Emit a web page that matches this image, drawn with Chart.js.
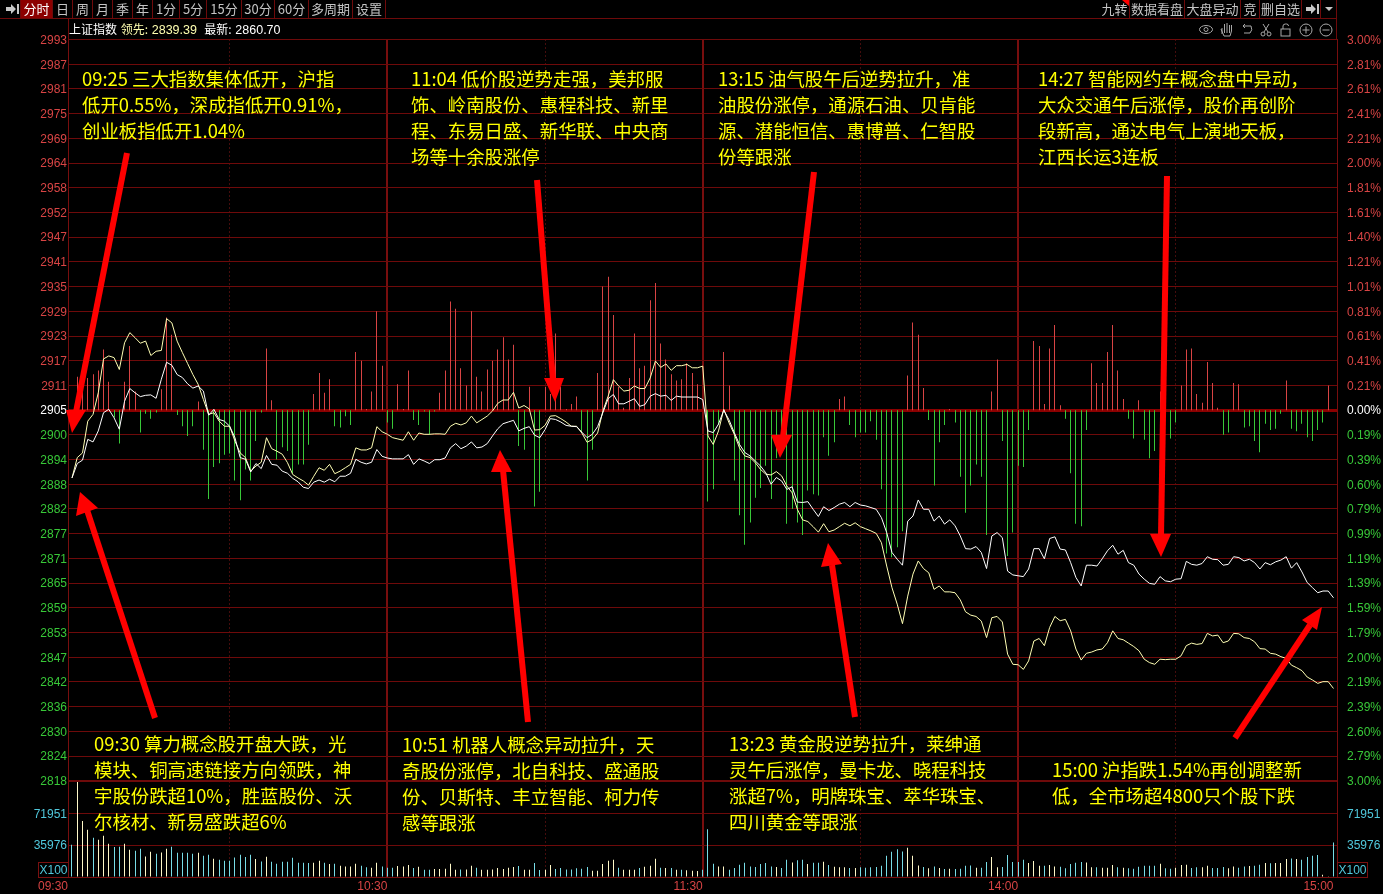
<!DOCTYPE html>
<html>
<head>
<meta charset="utf-8">
<title>上证指数 分时</title>
<script src="https://cdn.jsdelivr.net/npm/chart.js@4"></script>
<style>
html, body { margin: 0; padding: 0; background: #000; width: 1383px; height: 894px; overflow: hidden; }
canvas { position: absolute; left: 0; }
#main { top: 0; }
#vol { top: 770px; }
.abs { position: absolute; white-space: pre; }
#top { font: 13px "Noto Sans CJK SC", sans-serif; color: #c4c4c4; }
#top span { position: absolute; top: 0; height: 18px; line-height: 18px; text-align: center; border-right: 1px solid #6e0a0a; box-sizing: border-box; }
#info { left: 69px; top: 20px; font: 12px/18px "Noto Sans CJK SC", sans-serif; color: #fff; word-spacing: 1px; }
#info b { font: 12.500px/18px "Liberation Sans", sans-serif; }
.note { color: #ffff00; font: 18.400px/26px "Noto Sans CJK SC", sans-serif; }
#x100 { left: 38px; top: 862px; width: 29px; height: 14px; border: 1px solid #7a1010; color: #50c8dc; font: 12px/14px "Liberation Sans", sans-serif; text-align: center; }
#x100r { left: 1337px; top: 862px; width: 29px; height: 14px; border: 1px solid #7a1010; color: #50c8dc; font: 12px/14px "Liberation Sans", sans-serif; text-align: center; }
</style>
</head>
<body>
<canvas id="main" width="1383" height="790"></canvas>
<canvas id="vol" width="1383" height="124"></canvas>

<div id="top" class="abs" style="left:0;top:0;width:1383px;height:18px"></div>
<div class="abs" style="left:0;top:18px;width:1337px;height:1px;background:#6e0a0a"></div>
<div class="abs" style="left:68px;top:18px;width:1px;height:22px;background:#6e0a0a"></div>
<div class="abs" style="left:1336px;top:0;width:1px;height:40px;background:#6e0a0a"></div>
<div id="info" class="abs">上证指数 <span style="color:#ffffb0">领先: </span><b style="color:#ffffb0">2839.39</b>  最新: <b>2860.70</b></div>
<div id="x100" class="abs">X100</div>
<div id="x100r" class="abs">X100</div>

<div class="note abs" style="left:82px;top:65px">09:25 三大指数集体低开，沪指
低开0.55%，深成指低开0.91%，
创业板指低开1.04%</div>
<div class="note abs" style="left:411px;top:65px">11:04 低价股逆势走强，美邦服
饰、岭南股份、惠程科技、新里
程、东易日盛、新华联、中央商
场等十余股涨停</div>
<div class="note abs" style="left:718px;top:65px">13:15 油气股午后逆势拉升，准
油股份涨停，通源石油、贝肯能
源、潜能恒信、惠博普、仁智股
份等跟涨</div>
<div class="note abs" style="left:1038px;top:65px">14:27 智能网约车概念盘中异动，
大众交通午后涨停，股价再创阶
段新高，通达电气上演地天板，
江西长运3连板</div>
<div class="note abs" style="left:94px;top:730px">09:30 算力概念股开盘大跌，光
模块、铜高速链接方向领跌，神
宇股份跌超10%，胜蓝股份、沃
尔核材、新易盛跌超6%</div>
<div class="note abs" style="left:402px;top:731px">10:51 机器人概念异动拉升，天
奇股份涨停，北自科技、盛通股
份、贝斯特、丰立智能、柯力传
感等跟涨</div>
<div class="note abs" style="left:729px;top:730px">13:23 黄金股逆势拉升，莱绅通
灵午后涨停，曼卡龙、晓程科技
涨超7%，明牌珠宝、萃华珠宝、
四川黄金等跟涨</div>
<div class="note abs" style="left:1052px;top:756px">15:00 沪指跌1.54%再创调整新
低，全市场超4800只个股下跌</div>

<!-- red arrows + toolbar icons, drawn over everything -->
<svg class="abs" style="left:0;top:0" width="1383" height="894">
  <g stroke="#ff0000" stroke-width="6" fill="#ff0000">
    <line x1="127" y1="153" x2="76" y2="412"/><polygon stroke="none" points="72,433 66,410 86,410"/>
    <line x1="155" y1="718" x2="87" y2="510"/><polygon stroke="none" points="80,492 76,516 98,508"/>
    <line x1="528" y1="722" x2="503" y2="470"/><polygon stroke="none" points="500,450 491,472 512,472"/>
    <line x1="537" y1="180" x2="553" y2="380"/><polygon stroke="none" points="555,402 544,378 564,378"/>
    <line x1="814" y1="172" x2="783" y2="437"/><polygon stroke="none" points="780,458 771,435 792,435"/>
    <line x1="855" y1="717" x2="832" y2="565"/><polygon stroke="none" points="828,543 821,567 842,564"/>
    <line x1="1167" y1="176" x2="1161" y2="536"/><polygon stroke="none" points="1161,557 1150,534 1171,534"/>
    <line x1="1235" y1="738" x2="1310" y2="625"/><polygon stroke="none" points="1322,607 1302,620 1317,630"/>
  </g>
  <polygon points="1122,0 1129,0 1129,6" fill="#ff0000"/>
  <g fill="#c8c8c8">
    <polygon points="6,7 11,7 11,4 16,9 11,14 11,11 6,11"/><rect x="17" y="4" width="2" height="10"/>
    <polygon points="1306,7 1311,7 1311,4 1316,9 1311,14 1311,11 1306,11"/><rect x="1317" y="4" width="2" height="10"/>
    <polygon points="1325,7 1333,7 1329,11"/>
  </g>
  <g fill="none" stroke="#a8a8a8" stroke-width="1">
    <ellipse cx="1206" cy="29.5" rx="6.5" ry="4"/><circle cx="1206" cy="29.5" r="2"/>
    <path d="M1222 34 v-6 M1224.500 33 v-9 M1227 33 v-10 M1229.500 33 v-8 M1221 29 l3 7 h6 l1.500 -5 v-6"/>
    <path d="M1251 26 h-8 l2 -2 M1243 26 l2 2 M1251 26 q2 4 -1 7 h-6"/>
    <circle cx="1263" cy="34" r="2"/><circle cx="1269" cy="34" r="2"/><path d="M1264 32 l5 -8 M1268 32 l-5 -8"/>
    <rect x="1281" y="29" width="9" height="7"/><path d="M1283 29 v-3 q0 -2 2.500 -2 h1 q2 0 2 2"/>
    <circle cx="1306" cy="30" r="6"/><path d="M1302.500 30 h7 M1306 26.500 v7"/>
    <circle cx="1326" cy="30" r="6"/><path d="M1322.500 30 h7"/>
  </g>
</svg>

<script>
// minutes from 09:30, 241 points, index = trading minute
const lineWhite = [
  2889.5,2892.9,2893.7,2898.6,2898,2900.6,2904.9,2905.7,2903.7,2901,
  2907.6,2910.6,2909.6,2908.7,2909,2909.1,2908.3,2912.8,2916.8,2916.1,
  2913.9,2913.2,2911.7,2910.7,2911.2,2910,2904.3,2905.7,2903.3,2902.9,
  2901.7,2899,2894.3,2893.9,2890.9,2892.9,2891.7,2894.8,2892.7,2892.5,
  2891.1,2890.6,2889.4,2888.6,2887.3,2887,2888.5,2889,2888.5,2889.2,
  2888.6,2889.9,2889.9,2890.6,2893.9,2893.2,2892.8,2893.2,2896.2,2894.6,
  2894.2,2894,2894,2894,2895,2892.7,2894,2893.5,2892.9,2893.8,
  2893.8,2894.2,2896.6,2897.6,2896.4,2897,2898,2896.6,2896.8,2897.6,
  2899.4,2901.1,2902.3,2902.7,2903.1,2900.6,2901.2,2901.6,2899.6,2899,
  2900.9,2903.5,2903.3,2902.7,2901.9,2901.7,2901.6,2900.3,2899,2899.8,
  2901.6,2904.9,2908.2,2909.2,2907,2907,2907.6,2908.2,2906.4,2906.8,
  2908.8,2909.4,2908.8,2909,2907.8,2908.8,2908.6,2908.6,2908.6,2908.6,
  2908,2900.6,2900.2,2902.2,2905.5,2903.2,2900.2,2897.4,2895.5,2894.7,
  2893.5,2892.3,2890.7,2888,2889.6,2888.8,2886.8,2887.4,2883.8,2883.7,
  2883.9,2882.1,2880.4,2882.7,2881.8,2882.5,2883.3,2883.7,2882.7,2883.7,
  2883.1,2882.9,2882.5,2882.1,2880.1,2876.6,2871.9,2870.3,2868.9,2879.3,
  2880.5,2884.3,2882.1,2882.1,2879.3,2880.5,2878.6,2879.6,2878.2,2875.8,
  2872.8,2872.7,2873.3,2871.9,2868.1,2875.8,2876.6,2875.4,2867.5,2866.6,
  2866.4,2866.2,2868,2872.8,2872.8,2870.4,2875.2,2875.6,2872.7,2872.5,
  2869.5,2866,2864,2868.9,2868.9,2868.7,2870.4,2872.3,2873.6,2871.5,
  2872.4,2869.5,2868.9,2866.8,2865.6,2864.6,2864.4,2866.2,2865.2,2865,
  2865.6,2865.7,2869.8,2869.1,2868.9,2869.3,2870.9,2870.3,2870.2,2868.9,
  2869.1,2870.9,2870.7,2869.9,2870.3,2869.5,2868,2869.5,2869,2869.7,
  2870.1,2870.9,2868.2,2869.5,2867.3,2864.8,2863.6,2862.4,2862.8,2862.8,
  2861.2
];
const lineYellow = [
  2889.5,2894.3,2895.4,2902.9,2904.5,2909.6,2917.6,2918.3,2917.9,2915.1,
  2921.4,2923.8,2922.6,2921.3,2921.8,2918.4,2919.4,2919.6,2927.1,2926.1,
  2921.8,2919.1,2916.5,2913.9,2911.6,2908,2904.5,2904.9,2902.9,2901.7,
  2901.7,2898.2,2895.4,2894.3,2891.1,2892.3,2893.2,2899,2896.4,2895.8,
  2895.1,2893.1,2890.3,2889.5,2888.8,2887.8,2889.9,2891.9,2891.3,2892.7,
  2890.5,2891.1,2891.9,2892.7,2896.6,2896.1,2896.1,2896.6,2901.6,2900.4,
  2899.8,2899,2898.7,2898.4,2900.4,2898.4,2900.1,2899.8,2899.8,2899.9,
  2899.9,2899.8,2901.7,2902.4,2902,2902.5,2904.1,2902.5,2903.3,2904.1,
  2905.3,2907.1,2907.9,2907.9,2909.7,2906,2906.6,2905.8,2900.8,2900.9,
  2901.9,2904.1,2904.2,2903.5,2902.7,2901.7,2901.7,2900.1,2897.9,2898.6,
  2900.1,2905.3,2908.8,2912.7,2911.2,2910,2910.2,2911.2,2910.6,2910.6,
  2913.1,2917.1,2915.6,2916.4,2914.9,2916,2916,2916.3,2915.5,2915.5,
  2915.9,2899.4,2897.4,2900.6,2905.7,2902.5,2899.8,2896.6,2894.7,2894.3,
  2893.1,2891.5,2890.4,2890.2,2891,2890,2887.6,2886,2882.1,2879.6,
  2879.2,2878,2876.7,2878.7,2876.8,2877.2,2878,2878.8,2878.2,2878.9,
  2878,2877.5,2877,2876.4,2874.2,2868.7,2863.6,2859.7,2855.1,2861.6,
  2866.8,2869.9,2868.1,2867.1,2863.2,2864,2862.6,2862.6,2862.4,2860.7,
  2857.9,2857.1,2856.8,2855.7,2851.8,2856.5,2856.8,2855.5,2847.9,2845.5,
  2845.4,2844.3,2846.3,2851,2851.6,2849.9,2854.2,2856.8,2855.8,2856.1,
  2853.4,2849.1,2846.5,2848.1,2848.4,2848.9,2849.1,2850.6,2853.4,2851.6,
  2851.3,2850.5,2849.7,2848.7,2846.7,2845.9,2845.5,2846.7,2846.6,2846.7,
  2846.7,2847.5,2849.9,2850.5,2850.2,2850.4,2852.8,2852.2,2852.4,2850.6,
  2851,2852.8,2852.7,2851.8,2851.6,2850.8,2849.2,2849.1,2848.1,2847.9,
  2847.3,2846.9,2845.3,2844.7,2844,2842.5,2841.8,2841,2841.4,2841.4,
  2839.8
];
// red / green bars around the zero line, read in % on the right axis
const flow = [
  0,0.27,0.15,0.26,0.29,0.32,0.49,0.23,-0.06,-0.27,
  0.23,0.52,0.15,-0.18,-0.03,-0.07,-0.02,0.17,0.75,0.61,
  -0.04,-0.13,-0.21,-0.13,0.07,-0.32,-0.72,-0.46,-0.43,-0.36,
  -0.35,-0.57,-0.73,-0.48,-0.57,-0.25,-0.02,0.5,0.08,-0.4,
  -0.3,-0.33,-0.51,-0.44,-0.44,-0.28,0.13,0.3,0.14,0.25,
  -0.13,-0.14,-0.05,-0.12,0.47,0.4,0.01,0.15,0.8,0.36,
  -0.1,-0.15,0.21,0.01,0.32,-0.08,-0.12,-0.01,-0.2,-0.01,
  0.14,0.32,0.88,0.82,0.34,0.2,0.8,0.27,0.15,0.33,
  0.4,0.49,0.59,0.41,0.53,-0.29,-0.32,0.19,-0.78,-0.66,
  0.19,0.13,0.62,0.19,0.01,0.05,0.11,-0.18,-0.57,-0.32,
  0.3,1,1.08,0.77,0.19,0.02,0.26,0.62,0.34,0.36,
  0.89,1.03,0.54,0.41,0.29,0.24,0.25,0.38,0.3,0.21,
  0,-0.74,-0.64,-0.12,0.47,0.2,-0.57,-0.85,-1.09,-0.91,
  -0.71,-0.63,-0.45,-0.72,-0.39,-0.3,-0.92,-0.8,-0.91,-1.01,
  -0.65,-0.68,-0.69,-0.22,-0.37,-0.26,0.09,0.11,-0.12,-0.22,
  -0.18,-0.18,-0.09,-0.24,-0.64,-1.16,-1.19,-1.11,-0.98,0.28,
  0.71,0.61,0.18,-0.08,-0.61,-0.26,-0.12,0.01,-0.1,-0.54,
  -0.83,-0.61,-0.44,-0.54,-1.01,0.15,0.41,-0.25,-1.18,-0.99,
  -0.45,-0.46,-0.16,0.56,0.52,0.05,0.5,0.69,0.04,-0.07,
  -0.51,-0.92,-0.94,-0.16,0.38,0.22,0.22,0.47,0.69,0.32,
  0.09,-0.07,-0.23,0.08,-0.24,-0.39,-0.33,0.15,0,-0.23,
  -0.1,0.2,0.49,0.5,0.13,0.06,0.39,0.22,0.02,-0.2,
  -0.18,0.22,0.21,-0.14,-0.13,-0.25,-0.34,-0.11,-0.16,-0.15,
  -0.03,0.24,-0.15,-0.17,-0.11,-0.22,-0.25,-0.16,-0.1,0.2,
  0
];
const volume = [
  36400,107300,63400,53300,44300,42000,46500,37500,33800,34100,
  37500,30800,29600,31900,23300,28500,26300,27800,31900,34100,
  27400,27400,27400,26300,27400,24000,25100,20600,19500,18400,
  18400,22100,25100,22500,25100,20300,17600,22900,17300,15000,
  17300,17300,21800,16100,16100,15800,16100,18400,16100,14600,
  15000,12800,12000,12000,15000,12800,10900,10500,16100,12000,
  10500,10500,12400,12000,13500,10100,11600,8300,8300,9000,
  9000,9400,15000,8300,8600,8600,12800,10500,8300,8300,
  8600,10100,9000,10500,11300,12400,8300,8300,15800,7900,
  8300,13500,9000,10100,8600,8600,9800,9400,11300,7100,
  7100,14600,18400,19500,10500,8300,8300,8300,10100,11600,
  12800,20600,10500,10100,10100,8300,8300,7500,7100,6800,
  8300,54000,15000,12000,12000,8300,10100,13900,16100,12000,
  11300,14600,15800,12000,11300,10100,19500,16500,18800,19500,
  14600,16100,16100,17300,13500,11600,10900,10900,10100,10100,
  10900,10500,10900,11300,12800,24000,28500,31500,28900,33000,
  24000,13100,11300,9800,12000,10100,9000,9400,9000,9400,
  12800,13100,10500,10500,16900,22500,10900,11300,24800,16900,
  16900,19500,15800,18000,12800,12800,13500,12000,11600,9800,
  14600,16100,16900,16500,10900,10900,10500,10500,13500,10900,
  10500,9800,9400,11600,12800,12800,12800,15000,9800,9400,
  10500,13500,13900,10100,10900,10900,12800,10100,10100,11300,
  9800,12000,10500,12000,12400,12800,13900,15800,15400,15800,
  15800,20300,21000,20300,19500,22500,24000,24800,2600,800,
  39000
];

const priceLabels = ["2993","2987","2981","2975","2969","2964","2958","2952","2947","2941","2935","2929","2923","2917","2911","2905",
  "2900","2894","2888","2882","2877","2871","2865","2859","2853","2847","2842","2836","2830","2824","2818"];
const pctLabels = ["3.00%","2.81%","2.61%","2.41%","2.21%","2.00%","1.81%","1.61%","1.40%","1.21%","1.01%","0.81%","0.61%","0.41%","0.21%","0.00%",
  "0.19%","0.39%","0.60%","0.79%","0.99%","1.19%","1.39%","1.59%","1.79%","2.00%","2.19%","2.39%","2.60%","2.79%","3.00%"];
const volTicks = [0, 35976, 71951, 107927];
const timeTicks = [60, 120, 180];
const timeLabels = ["09:30", "10:30", "11:30", "14:00", "15:00"];
const halfHours = [30, 90, 150, 210];

// toolbar: label, left, right
const leftBtns = [["",0,21],["分时",21,53],["日",53,73],["周",73,93],["月",93,113],["季",113,133],["年",133,153],["1分",153,180],["5分",180,207],["15分",207,242],["30分",242,275],["60分",275,309],["多周期",309,353],["设置",353,386]];
const rightBtns = [["九转",1100,1130],["数据看盘",1130,1185],["大盘异动",1185,1241],["竞",1241,1260],["删自选",1260,1302],["",1302,1321]];
const topBar = document.getElementById('top');
leftBtns.concat(rightBtns).forEach(b => {
	const s = document.createElement('span');
	s.textContent = b[0];
	s.style.left = b[1] + 'px';
	s.style.width = (b[2] - b[1]) + 'px';
	if (b[0] === '分时') { s.style.background = '#8c0000'; s.style.color = '#fff'; }
	topBar.appendChild(s);
});

const GRID = '#6e0a0a', HOUR = '#780e0e', UP = '#d84444', DOWN = '#38c838';
const AXIS_FONT = { family: '"Liberation Sans", sans-serif', size: 12 };
const X_MIN = -0.76, X_MAX = 240.67;

const xy = arr => arr.map((v, i) => ({ x: i, y: v }));

// 1px bars land on whole pixels like the terminal draws them
const crispBars = {
	id: 'crispBars',
	afterDatasetsUpdate(chart) {
		chart.data.datasets.forEach((d, i) => {
			if (d.type !== 'bar') return;
			chart.getDatasetMeta(i).data.forEach(el => { el.x = Math.floor(el.x) + 0.5; });
		});
	}
};

const hourAxis = (extra) => Object.assign({
	type: 'linear', min: X_MIN, max: X_MAX, offset: false,
	afterBuildTicks: s => { s.ticks = timeTicks.map(v => ({ value: v })); },
	afterFit: s => { s.height = 0; },
	ticks: { display: false },
	grid: { color: HOUR, lineWidth: 2, drawTicks: false, offset: false },
	border: { display: false }
}, extra || {});

const halfAxis = {
	type: 'linear', position: 'bottom', min: X_MIN, max: X_MAX, offset: false,
	afterBuildTicks: s => { s.ticks = halfHours.map(v => ({ value: v })); },
	afterFit: s => { s.height = 0; },
	ticks: { display: false },
	grid: { color: '#8a1818', lineWidth: 1, drawTicks: false, offset: false },
	border: { display: false, dash: [1, 3] }
};

new Chart(document.getElementById('main'), {
	type: 'bar',
	data: {
		datasets: [
			{ type: 'line', data: xy(lineYellow), yAxisID: 'y', xAxisID: 'x', borderColor: '#ffffb4', borderWidth: 1, pointRadius: 0, tension: 0, order: 1 },
			{ type: 'line', data: xy(lineWhite), yAxisID: 'y', xAxisID: 'x', borderColor: '#ffffff', borderWidth: 1, pointRadius: 0, tension: 0, order: 0 },
			{ type: 'bar', data: xy(flow), yAxisID: 'yPct', xAxisID: 'x', barThickness: 1, inflateAmount: 0, order: 2,
				backgroundColor: c => (c.raw && c.raw.y >= 0) ? UP : DOWN }
		]
	},
	options: {
		responsive: false, animation: false,
		layout: { autoPadding: false, padding: { top: 39.5, bottom: 8.5, left: 0, right: 0 } },
		plugins: { legend: { display: false }, tooltip: { enabled: false } },
		scales: {
			x: hourAxis(),
			x2: halfAxis,
			y: {
				position: 'left', min: 2818, max: 2993,
				afterBuildTicks: s => { s.ticks = priceLabels.map((l, k) => ({ value: 2993 - k * 175 / 30 })); },
				afterFit: s => { s.width = 68; },
				ticks: {
					autoSkip: false, padding: 1, labelOffset: 1, font: AXIS_FONT,
					color: c => c.index < 15 ? UP : (c.index === 15 ? '#fff' : DOWN),
					callback: (v, i) => priceLabels[i]
				},
				grid: {
					drawTicks: false,
					color: c => c.index === 15 ? '#8c0000' : GRID,
					lineWidth: c => c.index === 15 ? 3 : 1
				},
				border: { color: HOUR, width: 1 }
			},
			yPct: {
				position: 'right', min: -3, max: 3,
				afterBuildTicks: s => { s.ticks = pctLabels.map((l, k) => ({ value: 3 - k * 0.2 })); },
				afterFit: s => { s.width = 46; },
				ticks: {
					autoSkip: false, padding: 2, labelOffset: 1, font: AXIS_FONT,
					color: c => c.index < 15 ? UP : (c.index === 15 ? '#fff' : DOWN),
					callback: (v, i) => pctLabels[i]
				},
				grid: { display: false },
				border: { color: HOUR, width: 1 }
			}
		}
	},
	plugins: [crispBars]
});

new Chart(document.getElementById('vol'), {
	type: 'bar',
	data: {
		datasets: [{
			data: xy(volume), xAxisID: 'x', yAxisID: 'y', barThickness: 1, inflateAmount: 0,
			type: 'bar',
			// pale bar on an up minute, cyan on a down minute
			backgroundColor: c => (c.dataIndex > 0 && lineWhite[c.dataIndex] >= lineWhite[c.dataIndex - 1]) ? '#fff8c8' : '#78dce6'
		}]
	},
	options: {
		responsive: false, animation: false,
		layout: { autoPadding: false, padding: { top: 11.5, bottom: 0, left: 0, right: 0 } },
		plugins: { legend: { display: false }, tooltip: { enabled: false } },
		scales: {
			x: {
				type: 'linear', min: X_MIN, max: X_MAX, offset: false,
				afterBuildTicks: s => { s.ticks = [X_MIN].concat(timeTicks, [240]).map(v => ({ value: v })); },
				afterFit: s => { s.height = 17; },
				ticks: {
					autoSkip: false, maxRotation: 0, align: 'end', padding: 2, color: UP, font: AXIS_FONT,
					callback: (v, i) => timeLabels[i]
				},
				grid: {
					drawTicks: false, lineWidth: 2, offset: false,
					color: c => (c.index === 0 || c.index === 4) ? 'rgba(0,0,0,0)' : HOUR
				},
				border: { display: false }
			},
			x2: halfAxis,
			y: {
				position: 'left', min: 0, max: 107927,
				afterBuildTicks: s => { s.ticks = volTicks.map(v => ({ value: v })); },
				afterFit: s => { s.width = 68; },
				ticks: {
					autoSkip: false, padding: 1, labelOffset: 1, font: AXIS_FONT, color: '#50c8dc',
					callback: v => (v === 35976 || v === 71951) ? String(v) : ''
				},
				grid: { drawTicks: false, color: c => c.index === 0 ? HOUR : GRID },
				border: { color: HOUR, width: 1 }
			},
			yRight: {
				position: 'right', min: 0, max: 107927,
				afterBuildTicks: s => { s.ticks = volTicks.map(v => ({ value: v })); },
				afterFit: s => { s.width = 46; },
				ticks: {
					autoSkip: false, padding: 2, labelOffset: 1, font: AXIS_FONT, color: '#50c8dc',
					callback: v => (v === 35976 || v === 71951) ? String(v) : ''
				},
				grid: { display: false },
				border: { color: HOUR, width: 1 }
			}
		}
	},
	plugins: [crispBars]
});
</script>
</body>
</html>
